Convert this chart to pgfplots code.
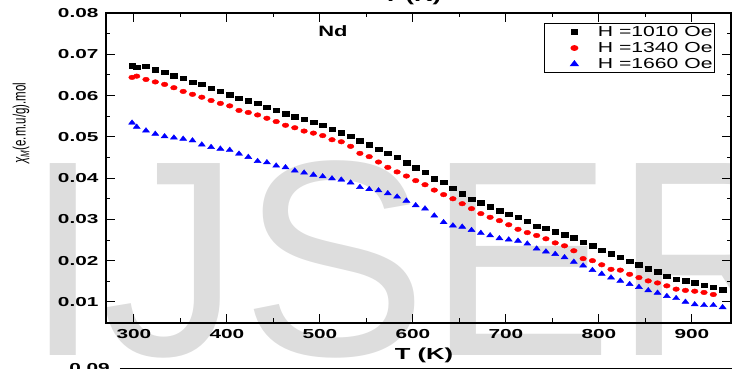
\documentclass[border=0pt]{standalone}
\usepackage{fontspec}
\usepackage{graphicx}
\usepackage{pgfplots}
\pgfplotsset{compat=1.18}
\setmainfont{Liberation Sans}
\newfontfamily\tickfont{Liberation Sans}[FakeStretch=1.6]
\newfontfamily\legfont{Liberation Sans}[FakeStretch=1.46]
\newfontfamily\wmfont{Liberation Sans}
\definecolor{wm}{RGB}{221,221,221}
\definecolor{myblue}{RGB}{0,0,255}
\definecolor{myred}{RGB}{255,0,0}
\begin{document}
\begin{tikzpicture}[x=1pt,y=1pt]
\useasboundingbox (-106,-46) rectangle (626,323);
% watermark
\node[anchor=base west, inner sep=0pt, text=wm, font={\wmfont\fontsize{279}{279}\selectfont}] at (-82,-33) {IJSER};
% remnants of neighbouring figures
\node[anchor=base, inner sep=0pt, font={\tickfont\bfseries\fontsize{16}{16}\selectfont}] at (306,321) {T (K)};
\node[anchor=east, inner sep=0pt, font={\tickfont\bfseries\fontsize{13}{13}\selectfont}] at (4,-45) {0.09};
\draw[line width=1.2pt] (14,-45.5) -- (640,-45.5);
\begin{axis}[
  at={(0,0)}, anchor=south west,
  scale only axis, width=625pt, height=310pt,
  xmin=270, xmax=942, ymin=0.0049, ymax=0.08,
  xtick={300,400,500,600,700,800,900},
  ytick={0.01,0.02,0.03,0.04,0.05,0.06,0.07,0.08},
  minor x tick num=1, minor y tick num=1,
  tick align=inside, tick pos=both,
  xticklabel pos=lower, yticklabel pos=left,
  major tick length=9pt, minor tick length=4.5pt,
  every tick/.style={black, line width=1pt},
  axis line style={line width=1.2pt},
  scaled y ticks=false,
  /pgf/number format/assume math mode=true,
  yticklabel style={xshift=-4pt, /pgf/number format/.cd, fixed, fixed zerofill, precision=2},
  xticklabel style={yshift=-3pt},
  ticklabel style={font={\tickfont\bfseries\fontsize{13}{13}\selectfont}},
  xlabel={T (K)},
  xlabel style={at={(axis description cs:0.509,-0.106)}, anchor=center, font={\tickfont\bfseries\fontsize{16}{16}\selectfont}},
  ylabel={\scalebox{1}[1.55]{\textit{χ}\raisebox{-2.5pt}{\fontsize{8}{8}\selectfont\textit{M}}(e.m.u/g).mol}},
  ylabel style={at={(axis description cs:-0.136,0.645)}, anchor=center, font={\fontsize{11.5}{11.5}\selectfont}},
  legend style={at={(rel axis cs:0.974,0.968)}, anchor=north east, draw=black, line width=1.2pt,
    inner xsep=0pt, inner ysep=0.5pt, font={\legfont\fontsize{14.5}{14.5}\selectfont},
    nodes={text height=10.5pt, text depth=2.5pt, inner sep=1.5pt}},
  legend cell align=left,
  legend image code/.code={\path[draw=none] (0pt,0pt) -- (52pt,0pt); \draw[#1, /tikz/only marks] plot coordinates {(30pt,0pt)};},
]
\addplot[only marks, mark=square*, color=black, mark size=2.2pt, mark options={xscale=1.5}] coordinates {
(298,0.0672)(303,0.0668)(313,0.0671)(323,0.0663)(333,0.0657)(343,0.0648)(353,0.0642)(363,0.0633)(373,0.0627)(383,0.0618)
(393,0.0610)(403,0.0602)(413,0.0593)(423,0.0588)(433,0.0582)(443,0.0572)(453,0.0565)(463,0.0556)(473,0.0549)(483,0.0542)
(493,0.0535)(503,0.0528)(513,0.0519)(523,0.0510)(533,0.0501)(543,0.0491)(553,0.0481)(563,0.0470)(573,0.0461)(583,0.0450)
(593,0.0437)(603,0.0425)(613,0.0414)(623,0.0399)(633,0.0390)(643,0.0376)(653,0.0362)(663,0.0349)(673,0.0340)(683,0.0331)
(693,0.0321)(703,0.0313)(713,0.0306)(723,0.0295)(733,0.0284)(743,0.0278)(753,0.0270)(763,0.0263)(773,0.0256)(783,0.0245)
(793,0.0236)(803,0.0226)(813,0.0217)(823,0.0209)(833,0.0199)(843,0.0190)(853,0.0181)(863,0.0173)(873,0.0163)(883,0.0155)
(893,0.0151)(903,0.0147)(913,0.0141)(923,0.0136)(933,0.0130)
};
\addlegendentry{H =1010 Oe}
\addplot[only marks, mark=*, color=myred, mark size=2.3pt, mark options={xscale=1.45}] coordinates {
(298,0.0644)(303,0.0647)(313,0.0639)(323,0.0633)(333,0.0627)(343,0.0619)(353,0.0610)(363,0.0603)(373,0.0596)(383,0.0588)
(393,0.0581)(403,0.0575)(413,0.0564)(423,0.0559)(433,0.0553)(443,0.0545)(453,0.0537)(463,0.0528)(473,0.0522)(483,0.0514)
(493,0.0509)(503,0.0503)(513,0.0493)(523,0.0488)(533,0.0477)(543,0.0460)(553,0.0452)(563,0.0439)(573,0.0426)(583,0.0415)
(593,0.0405)(603,0.0394)(613,0.0384)(623,0.0371)(633,0.0360)(643,0.0350)(653,0.0338)(663,0.0326)(673,0.0314)(683,0.0305)
(693,0.0297)(703,0.0287)(713,0.0276)(723,0.0268)(733,0.0261)(743,0.0253)(753,0.0243)(763,0.0236)(773,0.0224)(783,0.0205)
(793,0.0200)(803,0.0190)(813,0.0179)(823,0.0177)(833,0.0167)(843,0.0159)(853,0.0151)(863,0.0146)(873,0.0139)(883,0.0131)
(893,0.0128)(903,0.0126)(913,0.0123)(923,0.0118)
};
\addlegendentry{H =1340 Oe}
\addplot[only marks, mark=triangle*, color=myblue, mark size=3pt, mark options={xscale=1.35}] coordinates {
(298,0.0534)(303,0.0524)(313,0.0515)(323,0.0507)(333,0.0501)(343,0.0498)(353,0.0495)(363,0.0491)(373,0.0481)(383,0.0475)
(393,0.0471)(403,0.0468)(413,0.0459)(423,0.0451)(433,0.0441)(443,0.0438)(453,0.0430)(463,0.0426)(473,0.0418)(483,0.0413)
(493,0.0408)(503,0.0404)(513,0.0399)(523,0.0396)(533,0.0389)(543,0.0378)(553,0.0373)(563,0.0370)(573,0.0363)(583,0.0355)
(593,0.0345)(603,0.0334)(613,0.0326)(623,0.0309)(633,0.0293)(643,0.0285)(653,0.0282)(663,0.0274)(673,0.0267)(683,0.0261)
(693,0.0254)(703,0.0251)(713,0.0248)(723,0.0241)(733,0.0229)(743,0.0222)(753,0.0216)(763,0.0208)(773,0.0197)(783,0.0188)
(793,0.0177)(803,0.0168)(813,0.0159)(823,0.0151)(833,0.0143)(843,0.0136)(853,0.0128)(863,0.0122)(873,0.0114)(883,0.0109)
(893,0.0100)(903,0.0094)(913,0.0092)(923,0.0092)(933,0.0087)
};
\addlegendentry{H =1660 Oe}
\node[font={\legfont\bfseries\fontsize{15}{15}\selectfont}] at (axis cs:514,0.0756) {Nd};
\end{axis}
\end{tikzpicture}
\end{document}
